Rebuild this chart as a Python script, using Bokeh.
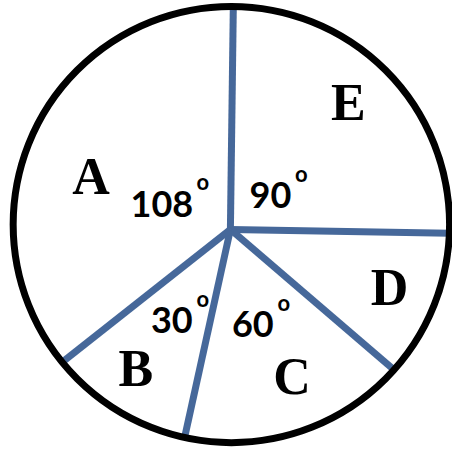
import numpy as np
from bokeh.plotting import figure
from bokeh.models import Range1d, ColumnDataSource
from bokeh.core.properties import value
from bokeh.embed import file_html
from bokeh.resources import INLINE

# ---- data ----
sectors = ["A", "B", "C", "D", "E"]
degree_labels = ["108", "30", "60", "", "90"]
# sector boundary directions as drawn in the picture (degrees, counter-clockwise from east)
boundary_angles = [89.25, -1.0, -40.65, -102.4, -141.7]

# ---- layout (reference pixel space, y flipped) ----
H = 465
cx, cy, R = 241.0, H - 232.0, 224.0      # outer circle
hx, hy = 240.0, H - 237.0                # hub of the radial lines
# polar placement of labels relative to hub: (angle deg, radius)
letter_pos = [(159.3, 153), (-124.1, 173), (-67.3, 164), (-20.2, 174), (47.1, 178)]
degree_pos = [(159.6, 75), (-122.8, 111), (-76.7, 100), (0, 0), (40.5, 54)]

p = figure(width=452, height=449, output_backend="svg", toolbar_location=None,
           x_range=Range1d(4, 468), y_range=Range1d(2, 463), min_border=0)
p.axis.visible = False
p.grid.visible = False
p.outline_line_color = None
p.background_fill_color = "white"
p.border_fill_color = "white"

# radial boundary lines: from hub to the circle
x1, y1 = [], []
for a in boundary_angles:
    d = np.array([np.cos(np.radians(a)), np.sin(np.radians(a))])
    f = np.array([hx - cx, hy - cy])
    b = 2 * f.dot(d)
    c = f.dot(f) - R * R
    t = (-b + np.sqrt(b * b - 4 * c)) / 2
    x1.append(hx + t * d[0])
    y1.append(hy + t * d[1])
p.segment(x0=[hx] * len(x1), y0=[hy] * len(y1), x1=x1, y1=y1,
          line_color="#46689a", line_width=7, line_cap="butt")

p.circle(x=[cx], y=[cy], radius=R, fill_color=None, line_color="black", line_width=7)

# sector letters
lx = [hx + r * np.cos(np.radians(a)) for a, r in letter_pos]
ly = [hy + r * np.sin(np.radians(a)) for a, r in letter_pos]
p.text(x=lx, y=ly, text=sectors, text_font=value("Liberation Serif"),
       text_font_style="bold", text_font_size="52px", text_color="black",
       text_align="center", text_baseline="middle")

# degree labels
idx = [i for i, t in enumerate(degree_labels) if t]
dx_ = [hx + degree_pos[i][1] * np.cos(np.radians(degree_pos[i][0])) for i in idx]
dy_ = [hy + degree_pos[i][1] * np.sin(np.radians(degree_pos[i][0])) for i in idx]
dt = [degree_labels[i] for i in idx]
p.text(x=dx_, y=dy_, text=dt, text_font=value("Lato"), text_font_style="bold",
       text_font_size="36px", text_color="black",
       text_align="center", text_baseline="middle")
src_o = ColumnDataSource(dict(x=dx_, y=dy_, text=["o"] * len(dt),
                              xo=[10 * len(t) + 11 for t in dt]))
p.text(x="x", y="y", text="text", x_offset="xo", y_offset=-22, source=src_o,
       text_font=value("Lato"), text_font_style="bold", text_font_size="22px",
       text_color="black", text_align="center", text_baseline="middle")

open("out.html", "w").write(file_html(p, INLINE))
